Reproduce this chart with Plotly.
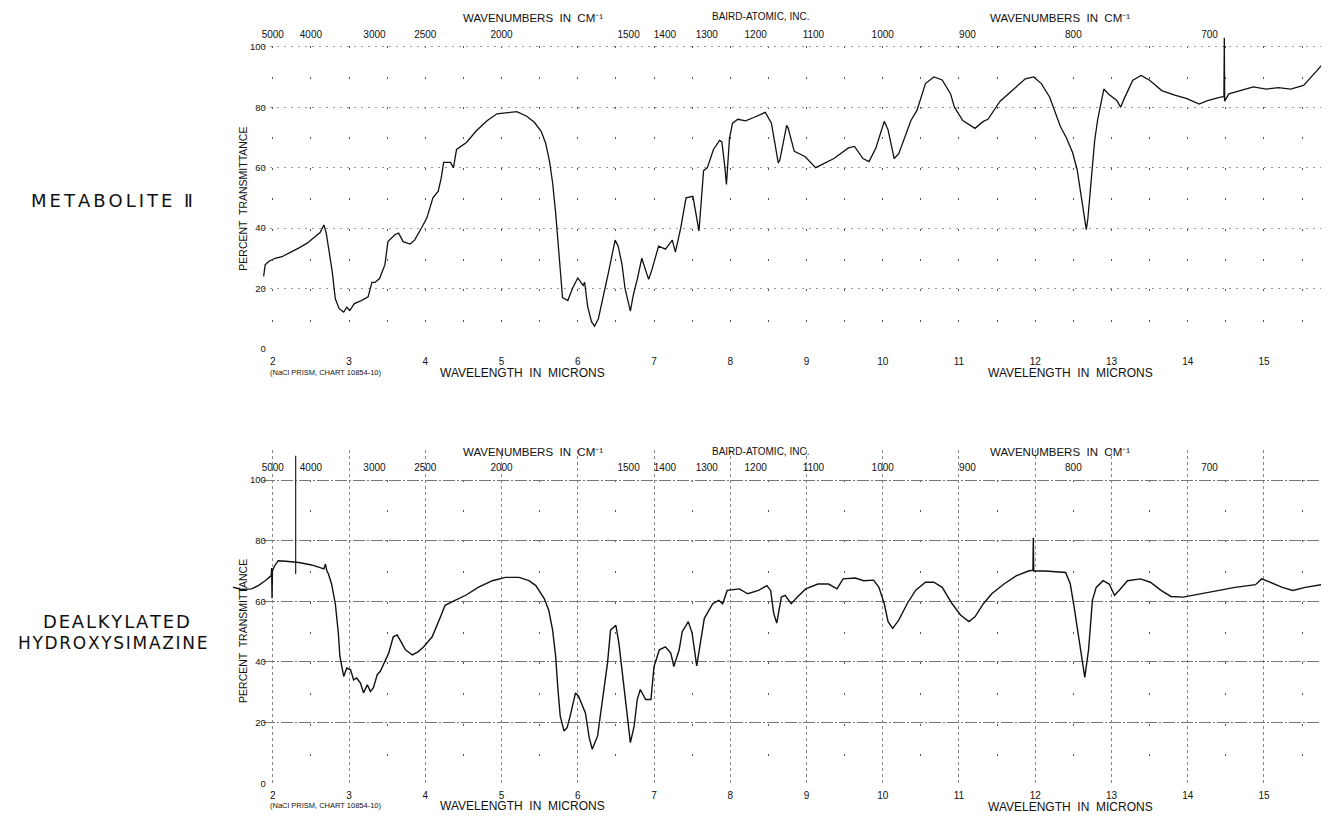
import plotly.graph_objects as go

# ---------------- data ----------------
# Metabolite II : wavelength (microns) / percent transmittance
met_um = [1.88, 1.90, 1.95, 2.03, 2.12, 2.20, 2.25, 2.35, 2.45, 2.55, 2.62, 2.67, 2.70, 2.74,
          2.78, 2.82, 2.87, 2.93, 2.97, 3.01, 3.07, 3.16, 3.25, 3.30, 3.34, 3.40, 3.47, 3.51,
          3.60, 3.65, 3.71, 3.80, 3.86, 3.95, 4.02, 4.10, 4.17, 4.21, 4.24, 4.33, 4.37, 4.41,
          4.54, 4.67, 4.81, 4.94, 5.03, 5.20, 5.33, 5.43, 5.52, 5.58, 5.63, 5.67, 5.71, 5.76,
          5.80, 5.87, 5.93, 6.00, 6.07, 6.09, 6.13, 6.18, 6.22, 6.27, 6.31, 6.40, 6.49, 6.53,
          6.58, 6.62, 6.69, 6.73, 6.78, 6.82, 6.84, 6.89, 6.93, 6.97, 7.02, 7.06, 7.15, 7.24,
          7.28, 7.35, 7.42, 7.51, 7.59, 7.65, 7.70, 7.78, 7.86, 7.89, 7.93, 7.95, 7.99, 8.03,
          8.10, 8.20, 8.30, 8.46, 8.54, 8.63, 8.65, 8.74, 8.76, 8.84, 8.98, 9.12, 9.20, 9.36,
          9.55, 9.63, 9.74, 9.82, 9.91, 10.02, 10.07, 10.15, 10.21, 10.29, 10.37, 10.45, 10.56,
          10.67, 10.78, 10.89, 10.94, 11.05, 11.16, 11.21, 11.32, 11.38, 11.54, 11.70, 11.87,
          11.98, 12.08, 12.19, 12.30, 12.33, 12.41, 12.49, 12.55, 12.60, 12.64, 12.67, 12.69,
          12.74, 12.78, 12.82, 12.90, 12.96, 13.07, 13.12, 13.17, 13.28, 13.39, 13.50, 13.66,
          13.83, 13.99, 14.15, 14.26, 14.43, 14.475, 14.48, 14.485, 14.54, 14.70, 14.86, 15.03,
          15.19, 15.35, 15.52, 15.68, 15.82, 15.86]
met_T = [24.0, 27.8, 29.0, 30.0, 30.5, 31.5, 32.0, 33.5, 35.0, 37.0, 38.5, 41.0, 38.5, 32.0,
         25.5, 16.6, 13.3, 12.2, 13.8, 12.7, 15.0, 16.0, 17.2, 22.0, 22.0, 23.3, 27.8, 35.5,
         37.8, 38.3, 35.5, 34.7, 36.0, 40.0, 43.3, 50.0, 52.2, 56.7, 61.7, 61.7, 60.0, 66.0,
         68.3, 72.2, 75.5, 77.8, 78.0, 78.5, 77.0, 75.0, 72.0, 68.0, 62.0, 55.0, 45.0, 30.0,
         17.0, 16.0, 20.0, 23.5, 21.0, 22.0, 14.0, 9.0, 7.5, 10.0, 15.0, 25.0, 36.0, 34.0,
         28.0, 20.0, 12.5, 18.0, 23.0, 27.0, 30.0, 26.0, 23.0, 26.0, 31.0, 34.0, 33.0, 36.0,
         32.0, 40.0, 50.0, 50.5, 39.0, 59.0, 60.0, 66.0, 69.0, 68.5, 60.0, 54.4, 69.8, 74.7,
         76.0, 75.5, 76.5, 78.3, 74.7, 61.5, 62.5, 74.0, 73.0, 65.4, 63.7, 60.0, 61.0, 63.0,
         66.5, 67.0, 63.0, 62.0, 66.5, 75.3, 72.5, 63.0, 64.6, 70.0, 75.6, 79.0, 87.8,
         90.0, 89.0, 84.4, 80.0, 75.6, 74.0, 73.0, 75.3, 76.0, 82.0, 85.5, 89.4,
         90.0, 87.8, 83.3, 75.6, 73.6, 69.8, 65.0, 59.3, 50.5, 44.0, 39.5, 43.0,
         58.0, 69.0, 76.0, 86.0, 84.4, 82.2, 80.0, 83.0, 88.9, 90.5, 88.9, 85.5,
         84.0, 82.8, 81.0, 82.2, 83.3, 83.5, 103.0, 82.0, 84.4, 85.5, 86.7, 86.0,
         86.5, 86.0, 87.2, 91.7, 95.6, 95.0]

# Dealkylated hydroxysimazine
dea_um = [1.47, 1.59, 1.72, 1.81, 1.90, 1.96, 1.98, 1.985, 1.99, 1.995, 2.02, 2.07, 2.17, 2.34,
          2.51, 2.60, 2.67, 2.69, 2.71, 2.73, 2.77, 2.82, 2.86, 2.88, 2.93, 2.97, 3.02, 3.06,
          3.10, 3.15, 3.19, 3.24, 3.28, 3.32, 3.37, 3.41, 3.45, 3.52, 3.58, 3.63, 3.67, 3.74,
          3.83, 3.91, 3.98, 4.09, 4.20, 4.26, 4.39, 4.53, 4.70, 4.88, 5.05, 5.23, 5.36, 5.45,
          5.56, 5.62, 5.67, 5.71, 5.74, 5.77, 5.82, 5.86, 5.90, 5.97, 6.01, 6.06, 6.10, 6.15,
          6.19, 6.26, 6.32, 6.39, 6.43, 6.50, 6.54, 6.58, 6.65, 6.69, 6.74, 6.78, 6.82, 6.89,
          6.96, 7.00, 7.07, 7.15, 7.22, 7.26, 7.33, 7.37, 7.45, 7.50, 7.56, 7.61, 7.66, 7.77,
          7.85, 7.90, 7.96, 8.12, 8.23, 8.37, 8.48, 8.53, 8.57, 8.61, 8.67, 8.72, 8.80, 8.88,
          8.99, 9.15, 9.29, 9.40, 9.48, 9.64, 9.75, 9.88, 9.95, 10.02, 10.07, 10.13, 10.21,
          10.32, 10.43, 10.56, 10.67, 10.78, 10.91, 11.02, 11.13, 11.21, 11.32, 11.43, 11.59,
          11.75, 11.91, 11.97, 11.975, 11.98, 12.13, 12.40, 12.46, 12.51, 12.57, 12.62, 12.65,
          12.70, 12.75, 12.80, 12.89, 12.97, 13.04, 13.10, 13.21, 13.38, 13.51, 13.65, 13.78,
          13.94, 14.19, 14.40, 14.62, 14.89, 14.97, 15.08, 15.24, 15.38, 15.54, 15.86]
dea_T = [64.7, 63.9, 64.1, 65.2, 66.8, 67.9, 68.5, 71.0, 61.0, 70.0, 71.5, 73.4, 73.2, 72.8,
         72.0, 71.2, 70.7, 72.3, 70.0, 69.0, 65.8, 59.2, 49.4, 41.8, 35.2, 38.0, 37.4, 34.1,
         34.7, 33.0, 29.8, 32.5, 30.3, 31.5, 35.8, 36.9, 39.0, 42.9, 48.3, 48.9, 47.2, 44.0,
         42.3, 43.4, 45.0, 48.3, 54.9, 58.7, 60.3, 62.0, 64.7, 66.8, 67.9, 67.9, 66.8, 65.2,
         60.9, 57.0, 50.5, 41.8, 30.9, 22.1, 17.2, 18.3, 22.1, 29.8, 28.7, 25.4, 23.2, 15.0,
         11.2, 15.6, 26.5, 39.6, 50.5, 52.1, 46.1, 37.4, 23.2, 13.4, 18.9, 27.6, 30.9, 27.6,
         27.6, 38.5, 44.0, 45.0, 42.9, 38.5, 44.0, 50.0, 53.3, 49.5, 38.7, 46.3, 54.4, 59.2,
         60.3, 59.2, 63.6, 64.1, 62.5, 63.6, 65.2, 63.6, 56.0, 52.8, 61.4, 62.0, 59.2, 61.4,
         64.1, 65.7, 65.7, 64.1, 67.4, 67.7, 66.8, 67.0, 64.6, 59.2, 53.3, 51.1, 53.8,
         59.2, 63.6, 66.3, 66.3, 64.6, 59.2, 55.5, 53.3, 54.9, 59.2, 62.5, 65.7,
         68.4, 70.0, 70.3, 81.0, 70.0, 70.0, 69.5, 65.7, 58.2, 48.4, 38.7, 34.9,
         44.1, 60.3, 64.6, 66.8, 65.7, 62.0, 63.6, 66.8, 67.4, 66.3, 63.6, 61.6,
         61.4, 62.5, 63.6, 64.6, 65.5, 67.4, 66.3, 64.6, 63.6, 64.6, 65.9]

# vertical pen mark on the lower chart
dea_mark_um = [2.30, 2.30]
dea_mark_T = [69.0, 108.0]

# axis ticks
micron_ticks = list(range(2, 16))
half_micron_ticks = [m + 0.5 for m in range(2, 16)]
wavenumber_labels = [5000, 4000, 3000, 2500, 2000, 1500, 1400, 1300, 1200, 1100, 1000, 900, 800, 700]
percent_ticks = [0, 20, 40, 60, 80, 100]

# ---------------- layout geometry ----------------
# the page body keeps an 8px browser margin, so the figure is drawn 8px in and 8px down
OFF = 8
SW, SH = 1329, 819
FW, FH = SW - OFF, SH - OFF
X2_PX = 272.0        # screen pixel of 2 microns
PX_PER_UM = 76.3


def um_at(px):
    return 2 + (px - X2_PX) / PX_PER_UM


def fx(px):
    return (px - OFF) / FW


def fy(py):
    return 1 - (py - OFF) / FH


TOP_ZERO, TOP_PPP, TOP_MAX = 351.0, 3.04, 104.0
BOT_ZERO, BOT_PPP, BOT_MAX = 788.0, 3.05, 110.0


def lattice(ymax, ppp, dot=2):
    """dash pattern that puts a dot on every 10 % level along a vertical grid line"""
    starts = [round((ymax - (100 - 10 * k)) * ppp - dot / 2) for k in range(11)]
    parts = ["0px", f"{starts[0]}px"]
    for i, s in enumerate(starts):
        parts.append(f"{dot}px")
        if i < len(starts) - 1:
            parts.append(f"{starts[i + 1] - s - dot}px")
        else:
            parts.append("2000px")
    return ",".join(parts)


top_lat = lattice(TOP_MAX, TOP_PPP)
bot_lat = lattice(BOT_MAX, BOT_PPP)

num_font = dict(family="Liberation Sans, Arial, sans-serif", size=10, color="#111")

fig = go.Figure()
fig.add_trace(go.Scatter(x=met_um, y=met_T, mode="lines", xaxis="x", yaxis="y",
                         line=dict(color="#111", width=1.3), hoverinfo="skip", showlegend=False))
fig.add_trace(go.Scatter(x=dea_um, y=dea_T, mode="lines", xaxis="x5", yaxis="y5",
                         line=dict(color="#111", width=1.4), hoverinfo="skip", showlegend=False))
fig.add_trace(go.Scatter(x=dea_mark_um, y=dea_mark_T, mode="lines", xaxis="x5", yaxis="y5",
                         line=dict(color="#222", width=1.2), hoverinfo="skip", showlegend=False))
# invisible helpers so the grid/label axes are drawn
for xa, ya in (("x3", "y"), ("x2", "y2"), ("x4", "y2")):
    fig.add_trace(go.Scatter(x=[5], y=[50], mode="markers", marker=dict(opacity=0), xaxis=xa,
                             yaxis=ya, hoverinfo="skip", showlegend=False))

grid_left = 262
top_rng = [um_at(grid_left), um_at(SW)]
curve_rng_bot = [um_at(232), um_at(SW)]
top_dom_y = [fy(TOP_ZERO), fy(TOP_ZERO - TOP_MAX * TOP_PPP)]
bot_dom_y = [fy(BOT_ZERO), fy(BOT_ZERO - BOT_MAX * BOT_PPP)]

common_x = dict(dtick=1, tick0=2, zeroline=False, showline=False, ticks="outside", ticklen=3,
                tickcolor="rgba(0,0,0,0)", tickfont=num_font, fixedrange=True)
common_y = dict(anchor="free", position=fx(265), tickmode="array", tickvals=percent_ticks,
                zeroline=False, showline=False, ticks="", tickfont=dict(num_font, size=9.5),
                fixedrange=True)
wn_axis = dict(anchor="free", side="top", range=top_rng, tickmode="array",
               tickvals=[10000 / w for w in wavenumber_labels],
               ticktext=[str(w) for w in wavenumber_labels], showgrid=False, zeroline=False,
               showline=False, ticks="", tickfont=num_font, fixedrange=True)

fig.update_layout(
    width=FW, height=FH, autosize=False,
    margin=dict(l=0, r=0, t=0, b=0),
    paper_bgcolor="white", plot_bgcolor="rgba(0,0,0,0)",
    # ---- upper chart
    xaxis=dict(domain=[fx(grid_left), 1], range=top_rng, anchor="y", showgrid=True,
               gridcolor="#555", gridwidth=1.4, griddash=top_lat,
               minor=dict(tickmode="array", tickvals=half_micron_ticks, showgrid=True,
                          gridcolor="#555", gridwidth=1.4, griddash=top_lat),
               **common_x),
    yaxis=dict(domain=top_dom_y, range=[0, TOP_MAX], showgrid=True, gridcolor="#999",
               gridwidth=1, griddash="2px,5px", **common_y),
    xaxis3=dict(overlaying="x", position=fy(40), **wn_axis),
    # ---- lower chart (grid + labels)
    xaxis2=dict(domain=[fx(grid_left), 1], range=top_rng, anchor="y2", showgrid=True,
                gridcolor="#888", gridwidth=1, griddash="3px,3px",
                minor=dict(tickmode="array", tickvals=half_micron_ticks, showgrid=True,
                           gridcolor="#555", gridwidth=1.4, griddash=bot_lat),
                **common_x),
    yaxis2=dict(domain=bot_dom_y, range=[0, BOT_MAX], showgrid=True, gridcolor="#777",
                gridwidth=1.1, griddash="12px,2px,2px,2px", **common_y),
    xaxis4=dict(overlaying="x2", position=fy(476), **wn_axis),
    # ---- lower chart curve (its trace starts left of the grid)
    xaxis5=dict(domain=[fx(232), 1], range=curve_rng_bot, anchor="y5", visible=False,
                fixedrange=True),
    yaxis5=dict(domain=bot_dom_y, range=[0, BOT_MAX], anchor="x5", visible=False,
                fixedrange=True),
)

ann_font = dict(family="Liberation Sans, Arial, sans-serif", color="#111")
title_font = dict(family="DejaVu Sans, sans-serif", color="#111")


def ann(text, px, py, size=11, angle=0, font=None):
    f = dict(font or ann_font)
    f["size"] = size
    fig.add_annotation(text=text, x=fx(px), y=fy(py), xref="paper", yref="paper",
                       showarrow=False, xanchor="center", yanchor="middle",
                       textangle=angle, font=f)


def spaced(word, sp):
    return sp.join(word)


for dy in (0, 437):
    ann("WAVENUMBERS  IN  CM⁻¹", 532, 18 + dy, 11.5)
    ann("BAIRD-ATOMIC, INC.", 760, 17 + dy, 10)
    ann("WAVENUMBERS  IN  CM⁻¹", 1060, 18 + dy, 11.5)

ann("(NaCl PRISM, CHART 10854-10)", 325, 375, 7.5)
ann("WAVELENGTH  IN  MICRONS", 522, 375, 12)
ann("WAVELENGTH  IN  MICRONS", 1070, 375, 12)
ann("(NaCl PRISM, CHART 10854-10)", 325, 810, 7.5)
ann("WAVELENGTH  IN  MICRONS", 522, 811, 12)
ann("WAVELENGTH  IN  MICRONS", 1070, 812, 12)

ann("PERCENT  TRANSMITTANCE", 242, 200, 10.5, angle=-90)
ann("PERCENT  TRANSMITTANCE", 242, 635, 10.5, angle=-90)

ann(spaced("METABOLITE", "\u2006") + "  Ⅱ", 111, 202, 18, font=title_font)
ann(spaced("DEALKYLATED", "\u200a"), 116, 625, 18, font=title_font)
ann(spaced("HYDROXYSIMAZINE", "\u200a"), 112, 647, 17, font=title_font)

fig.write_html("out.html")
